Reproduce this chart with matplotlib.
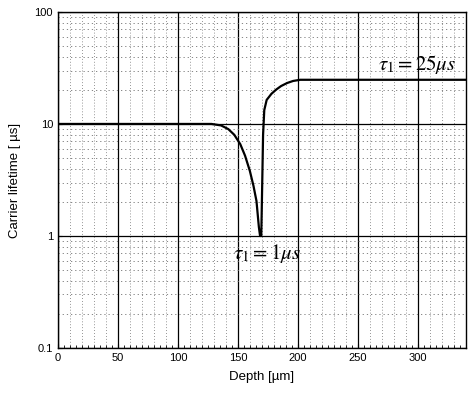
import numpy as np
import matplotlib
matplotlib.use("Agg")
import matplotlib.pyplot as plt
from matplotlib.ticker import MultipleLocator, LogLocator, NullFormatter

plt.rcParams['font.family'] = ['Liberation Sans', 'DejaVu Sans']
plt.rcParams['mathtext.fontset'] = 'stix'

# lifetime profile
depth = [0, 128, 136, 142, 147, 152, 156, 160, 163, 165.5, 167.5, 168.5, 169.5, 170.3, 171, 172, 174, 178, 182, 186, 191, 196, 202, 340]
tau = [10, 10, 9.7, 9.0, 8.0, 6.6, 5.2, 3.8, 2.8, 2.05, 1.2, 1.0, 1.0, 3.0, 8.0, 13.3, 16.4, 18.6, 20.3, 21.8, 23.2, 24.2, 24.8, 24.8]

xticks = [0, 50, 100, 150, 200, 250, 300]
yticks = [0.1, 1, 10, 100]
ytick_labels = ['0.1', '1', '10', '100']

fig = plt.figure(figsize=(4.71, 3.99), dpi=100)
ax = fig.add_axes([0.123, 0.128, 0.866, 0.842])

ax.plot(depth, tau, color='black', lw=1.6, zorder=3)

ax.set_yscale('log')
ax.set_xlim(0, 340)
ax.set_ylim(0.1, 100)
ax.set_xticks(xticks)
ax.set_yticks(yticks, labels=ytick_labels)
ax.xaxis.set_minor_locator(MultipleLocator(5))
ax.yaxis.set_minor_locator(LogLocator(base=10, subs=np.arange(2, 10)))
ax.yaxis.set_minor_formatter(NullFormatter())

ax.grid(which='major', color='black', lw=0.9, ls='-')
ax.grid(which='minor', axis='y', color='0.45', lw=0.6, ls=(0, (1.5, 3.5)))
for xv in np.arange(10, 340, 10):
    if xv % 50:
        ax.axvline(xv, color='0.45', lw=0.6, ls=(0, (1, 2.5)), zorder=1)

ax.tick_params(which='both', direction='in', top=False, right=False, labelsize=8, colors='black')
ax.tick_params(which='major', length=3)
ax.tick_params(which='minor', length=2)
ax.tick_params(axis='y', which='minor', length=0)
for s in ax.spines.values():
    s.set_linewidth(1.0)

ax.set_xlabel('Depth [µm]', fontsize=9.5, labelpad=6)
ax.set_ylabel('Carrier lifetime [ µs]', fontsize=9.5, labelpad=10)

ax.text(267, 34, r'$\tau_1 = 25\mu s$', fontsize=15, va='center', ha='left')
ax.text(146, 0.70, r'$\tau_1 = 1\mu s$', fontsize=15, va='center', ha='left')

fig.savefig('out.png', dpi=100)
